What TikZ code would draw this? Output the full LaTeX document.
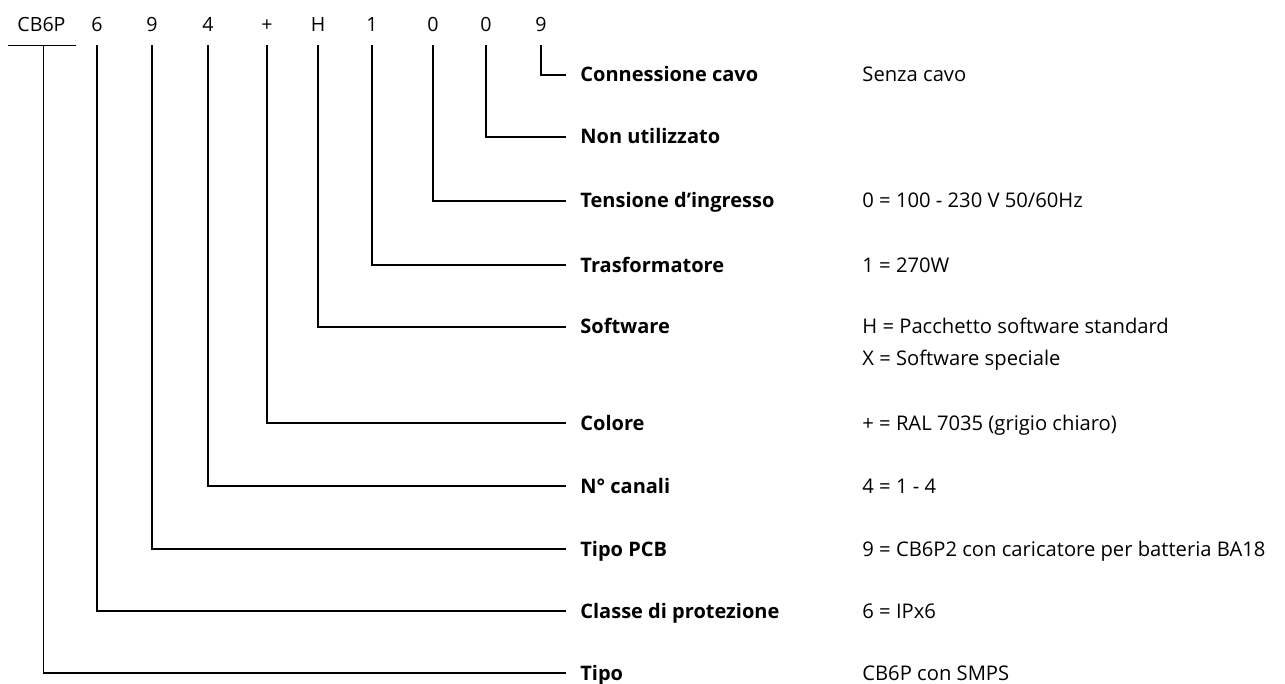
\documentclass[tikz,border=0pt]{standalone}
\usepackage{fontspec}
\setmainfont{Open Sans}
\usetikzlibrary{positioning}

\tikzset{
	digit/.style={inner xsep=0pt, inner ysep=6.5pt, text height=7pt, text depth=0pt, font=\fontsize{9.8}{11}\selectfont},
	field/.style={anchor=west, inner xsep=7pt, inner ysep=0pt, text height=7pt, text depth=0pt, font=\fontsize{10}{11}\selectfont\bfseries},
	value/.style={anchor=west, inner sep=0pt, text height=7pt, text depth=0pt, font=\fontsize{10.1}{11}\selectfont},
	lead/.style={line width=0.7pt}
}

\begin{document}
\begin{tikzpicture}[x=0.5pt, y=-0.5pt]
				\useasboundingbox (0,0) rectangle (1285,684);
				% code characters
				\node[digit, minimum width=34.5pt] (cb) at (41.5,25) {CB6P};
				\node[digit] (d6) at (97,25) {6};
				\node[digit] (d9a) at (152,25) {9};
				\node[digit] (d4) at (208,25) {4};
				\node[digit] (dplus) at (267,25) {+};
				\node[digit] (dH) at (318,25) {H};
				\node[digit] (d1) at (372,25) {1};
				\node[digit] (d0a) at (433,25) {0};
				\node[digit] (d0b) at (486,25) {0};
				\node[digit] (d9b) at (541,25) {9};
				% field names
				\node[field] (fcavo) at (566,75) {Connessione cavo};
				\node[field] (fnon) at (566,137) {Non utilizzato};
				\node[field] (ften) at (566,201) {Tensione d’ingresso};
				\node[field] (ftra) at (566,265) {Trasformatore};
				\node[field] (fsw) at (566,327) {Software};
				\node[field] (fcol) at (566,423) {Colore};
				\node[field] (fcan) at (566,486) {N° canali};
				\node[field] (fpcb) at (566,549) {Tipo PCB};
				\node[field] (fcla) at (566,611) {Classe di protezione};
				\node[field] (ftipo) at (566,673) {Tipo};
				% values
				\node[value] (vcavo) at (862,75) {Senza cavo};
				\node[value] (vten) at (862,201) {0 = 100 - 230 V 50/60Hz};
				\node[value] (vtra) at (862,265) {1 = 270W};
				\node[value] (vsw) at (862,327) {H = Pacchetto software standard};
				\node[value] (vswb) at (862,358) {X = Software speciale};
				\node[value] (vcol) at (862,423) {+ = RAL 7035 (grigio chiaro)};
				\node[value] (vcan) at (862,486) {4 = 1 - 4};
				\node[value] (vpcb) at (862,549) {9 = CB6P2 con caricatore per batteria BA18};
				\node[value] (vcla) at (862,611) {6 = IPx6};
				\node[value] (vtipo) at (862,673) {CB6P con SMPS};
				% leaders
				\draw[lead] ([xshift=-34.5pt/2+0.25pt]cb.south) -- ([xshift=34.5pt/2]cb.south);
				\draw[lead] ([xshift=1pt]cb.south) |- (ftipo.west);
				\draw[lead] (d6.south) |- (fcla.west);
				\draw[lead] (d9a.south) |- (fpcb.west);
				\draw[lead] (d4.south) |- (fcan.west);
				\draw[lead] (dplus.south) |- (fcol.west);
				\draw[lead] (dH.south) |- (fsw.west);
				\draw[lead] (d1.south) |- (ftra.west);
				\draw[lead] (d0a.south) |- (ften.west);
				\draw[lead] (d0b.south) |- (fnon.west);
				\draw[lead] (d9b.south) |- (fcavo.west);
			\end{tikzpicture}
\end{document}
